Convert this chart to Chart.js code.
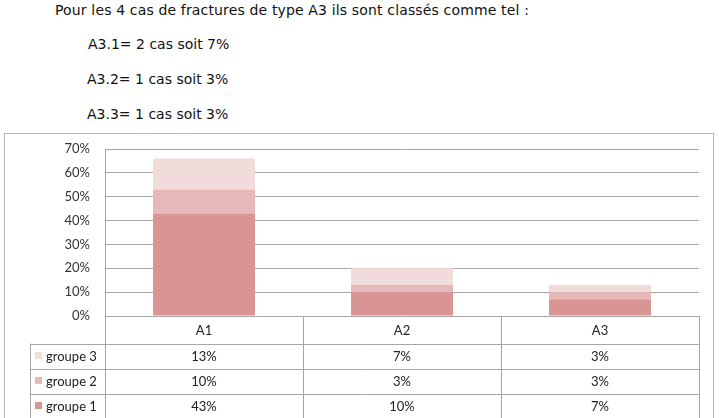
<!DOCTYPE html>
<html>
<head>
<meta charset="utf-8">
<script src="https://cdn.jsdelivr.net/npm/chart.js@4"></script>
<style>
  body { margin: 0; width: 719px; height: 418px; overflow: hidden; background: #fff; position: relative; font-family: Lato, "Open Sans", sans-serif; }
  .ligne { position: absolute; font-family: "DejaVu Sans", sans-serif; font-size: 14px; color: #111; white-space: nowrap; line-height: 16px; }
  #cadre { position: absolute; left: 4px; top: 133px; width: 710px; height: 300px; border: 1px solid #b5b5b5; box-sizing: border-box; }
  #graph { position: absolute; left: 0; top: 0; }
</style>
</head>
<body>
<div class="ligne" style="left:55px; top:2px; letter-spacing:0.15px;">Pour les 4 cas de fractures de type A3 ils sont classés comme tel :</div>
<div class="ligne" style="left:88px; top:36px;">A3.1= 2 cas soit 7%</div>
<div class="ligne" style="left:87px; top:71px;">A3.2= 1 cas soit 3%</div>
<div class="ligne" style="left:87px; top:106px;">A3.3= 1 cas soit 3%</div>
<div id="cadre"></div>
<canvas id="graph" width="719" height="418"></canvas>
<script>
// Données
const categories = ["A1", "A2", "A3"];
const groupe1 = [43, 10, 7];
const groupe2 = [10, 3, 3];
const groupe3 = [13, 7, 3];
const nomsGroupes = ["groupe 1", "groupe 2", "groupe 3"];
const couleurs = ["#d99594", "#e6b8b7", "#f2dcdb"];
const yMax = 70;
const yPas = 10;

// Tableau de données sous le graphique
const tableauDonnees = {
    id: "tableauDonnees",
    afterDraw(chart) {
        const ctx = chart.ctx;
        const zone = chart.chartArea;
        const n = categories.length;
        const largeurCol = (zone.right - zone.left) / n;
        const haut = zone.bottom;
        const hEntete = 27.5;
        const hLigne = 25;
        const gaucheLegende = 30;
        const bas = haut + hEntete + hLigne * 3;

        ctx.save();
        ctx.strokeStyle = "#a6a6a6";
        ctx.lineWidth = 1;
        ctx.beginPath();
        // lignes horizontales
        for (let r = 0; r <= 3; r++) {
            const y = Math.round(haut + hEntete + r * hLigne) + 0.5;
            ctx.moveTo(gaucheLegende, y);
            ctx.lineTo(zone.right, y);
        }
        // lignes verticales
        for (let c = 0; c <= n; c++) {
            const x = Math.round(zone.left + c * largeurCol) + 0.5;
            ctx.moveTo(x, haut);
            ctx.lineTo(x, bas);
        }
        ctx.moveTo(gaucheLegende + 0.5, haut + hEntete);
        ctx.lineTo(gaucheLegende + 0.5, bas);
        ctx.stroke();

        ctx.fillStyle = "#222";
        ctx.font = "13px Lato, 'Open Sans', sans-serif";
        ctx.textBaseline = "middle";
        ctx.textAlign = "center";
        categories.forEach((cat, i) => {
            ctx.fillText(cat, chart.scales.x.getPixelForValue(i), haut + hEntete / 2 + 1);
        });

        // lignes du tableau : groupe 3 en haut
        const ordre = [2, 1, 0];
        ordre.forEach((d, r) => {
            const ds = chart.data.datasets[d];
            const yc = haut + hEntete + r * hLigne + hLigne / 2;
            ctx.fillStyle = couleurs[d];
            ctx.fillRect(35, Math.round(yc) - 4, 7, 7);
            ctx.fillStyle = "#222";
            ctx.textAlign = "left";
            ctx.fillText(ds.label, 46, yc + 1);
            ctx.textAlign = "center";
            ds.data.forEach((v, i) => {
                ctx.fillText(v + "%", chart.scales.x.getPixelForValue(i), yc + 1);
            });
        });
        ctx.restore();
    }
};

new Chart(document.getElementById("graph"), {
    type: "bar",
    data: {
        labels: categories,
        datasets: [
            { label: nomsGroupes[0], data: groupe1, backgroundColor: couleurs[0] },
            { label: nomsGroupes[1], data: groupe2, backgroundColor: couleurs[1] },
            { label: nomsGroupes[2], data: groupe3, backgroundColor: couleurs[2] }
        ]
    },
    options: {
        responsive: false,
        animation: false,
        layout: { padding: { left: 55, top: 149, right: 20, bottom: 102 } },
        plugins: {
            legend: { display: false },
            tooltip: { enabled: false }
        },
        datasets: { bar: { categoryPercentage: 1, barPercentage: 0.515 } },
        scales: {
            x: {
                stacked: true,
                ticks: { display: false },
                grid: { display: false },
                border: { display: false },
                afterFit(scale) { scale.height = 0; }
            },
            y: {
                stacked: true,
                min: 0,
                max: yMax,
                ticks: {
                    stepSize: yPas,
                    padding: 15,
                    color: "#333",
                    font: { family: "Lato, 'Open Sans', sans-serif", size: 13 },
                    callback: v => v + "%"
                },
                grid: { color: "#a6a6a6", lineWidth: 1, drawTicks: false },
                border: { display: true, color: "#a6a6a6" },
                afterFit(scale) { scale.width = 50; }
            }
        }
    },
    plugins: [tableauDonnees]
});
</script>
</body>
</html>
